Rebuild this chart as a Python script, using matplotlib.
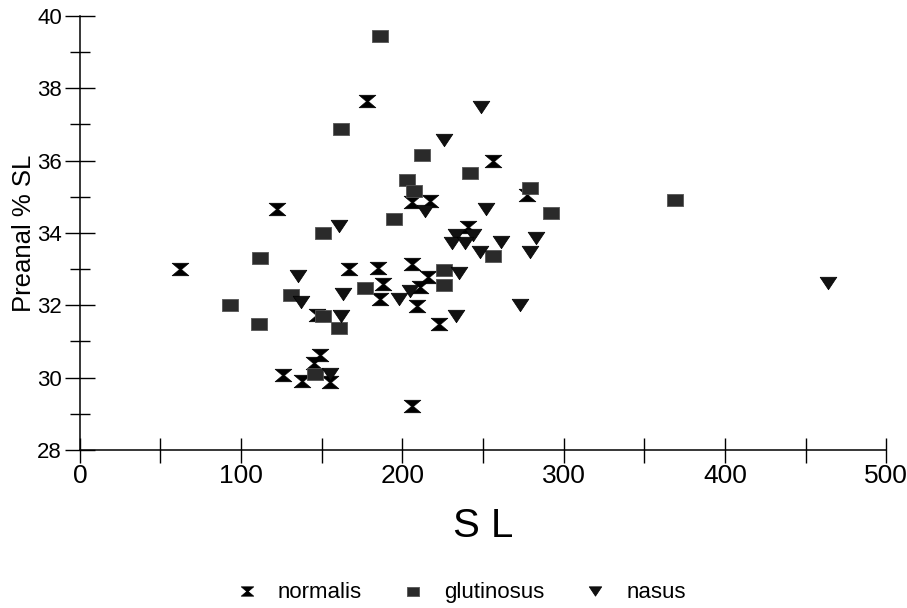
import matplotlib
matplotlib.use("Agg")
import matplotlib.pyplot as plt
from matplotlib.path import Path
from matplotlib.ticker import MultipleLocator

plt.rcParams["font.family"] = ["Liberation Sans", "DejaVu Sans"]

# data (SL, preanal % SL)
normalis_x = [62, 122, 178, 256, 277, 206, 217, 167, 185, 206, 188, 186, 211, 216,
              209, 223, 147, 149, 145, 155, 138, 126, 206, 241]
normalis_y = [33.0, 34.67, 37.65, 36.0, 35.05, 34.84, 34.87, 33.0, 33.02, 33.15, 32.58,
              32.17, 32.5, 32.78, 31.98, 31.48, 31.72, 30.63, 30.4, 29.87, 29.9, 30.06,
              29.22, 34.17]
glut_x = [186, 162, 212, 242, 203, 207, 279, 195, 151, 112, 131, 93, 111, 151, 161,
          146, 177, 226, 226, 256, 292, 369]
glut_y = [39.45, 36.88, 36.15, 35.65, 35.45, 35.15, 35.25, 34.37, 34.0, 33.3, 32.28,
          32.0, 31.48, 31.7, 31.38, 30.1, 32.47, 32.98, 32.56, 33.35, 34.55, 34.9]
nasus_x = [249, 226, 252, 214, 161, 135, 137, 163, 162, 198, 205, 235, 233, 273, 233,
           244, 231, 239, 248, 261, 283, 279, 155, 464]
nasus_y = [37.47, 36.57, 34.66, 34.6, 34.2, 32.8, 32.1, 32.3, 31.7, 32.17, 32.4, 32.88,
           31.7, 32.0, 33.93, 33.93, 33.72, 33.72, 33.48, 33.76, 33.85, 33.47, 30.1, 32.62]

# marker shapes (wider than tall, like the scanned figure)
hourglass = Path([(-1, 0.75), (1, 0.75), (0.12, 0), (1, -0.75), (-1, -0.75), (-0.12, 0), (-1, 0.75)],
                 [Path.MOVETO] + [Path.LINETO] * 5 + [Path.CLOSEPOLY])
rect = Path([(-1, -0.72), (1, -0.72), (1, 0.72), (-1, 0.72), (-1, -0.72)],
            [Path.MOVETO] + [Path.LINETO] * 3 + [Path.CLOSEPOLY])
tri = Path([(-1, 0.75), (1, 0.75), (0, -0.75), (-1, 0.75)],
           [Path.MOVETO] + [Path.LINETO] * 2 + [Path.CLOSEPOLY])

fig = plt.figure(figsize=(9.07, 6.08), dpi=100)
ax = fig.add_axes([0.088, 0.26, 0.889, 0.714])

ax.plot(normalis_x, normalis_y, ls="none", marker=hourglass, ms=12, color="black",
        mec="black", mew=0.5, label="normalis")
ax.plot(glut_x, glut_y, ls="none", marker=rect, ms=12, color="#2a2a2a",
        mec="#555555", mew=0.6, label="glutinosus")
ax.plot(nasus_x, nasus_y, ls="none", marker=tri, ms=12, color="#111111",
        mec="black", mew=0.5, label="nasus")

ax.set_xlim(0, 500)
ax.set_ylim(28, 40)
ax.xaxis.set_major_locator(MultipleLocator(100))
ax.xaxis.set_minor_locator(MultipleLocator(50))
ax.yaxis.set_major_locator(MultipleLocator(2))
ax.yaxis.set_minor_locator(MultipleLocator(1))

for s in ("top", "right"):
    ax.spines[s].set_visible(False)
for s in ("left", "bottom"):
    ax.spines[s].set_linewidth(1.1)

ax.tick_params(axis="y", which="major", direction="inout", length=22, width=1.0, labelsize=16, pad=2)
ax.tick_params(axis="y", which="minor", direction="inout", length=15, width=1.0)
ax.tick_params(axis="x", which="both", direction="inout", length=18, width=1.0)
ax.tick_params(axis="x", which="major", labelsize=19, pad=1)

ax.set_xlabel("S L", fontsize=29, labelpad=14)
ax.set_ylabel("Preanal % SL", fontsize=18.5, labelpad=1)

fig.legend(handles=ax.get_lines(), loc="center", bbox_to_anchor=(0.508, 0.025), ncol=3,
           frameon=False, fontsize=16, markerscale=0.75, handlelength=1.0,
           handletextpad=0.9, columnspacing=1.8)

fig.savefig("out.png", dpi=100)
